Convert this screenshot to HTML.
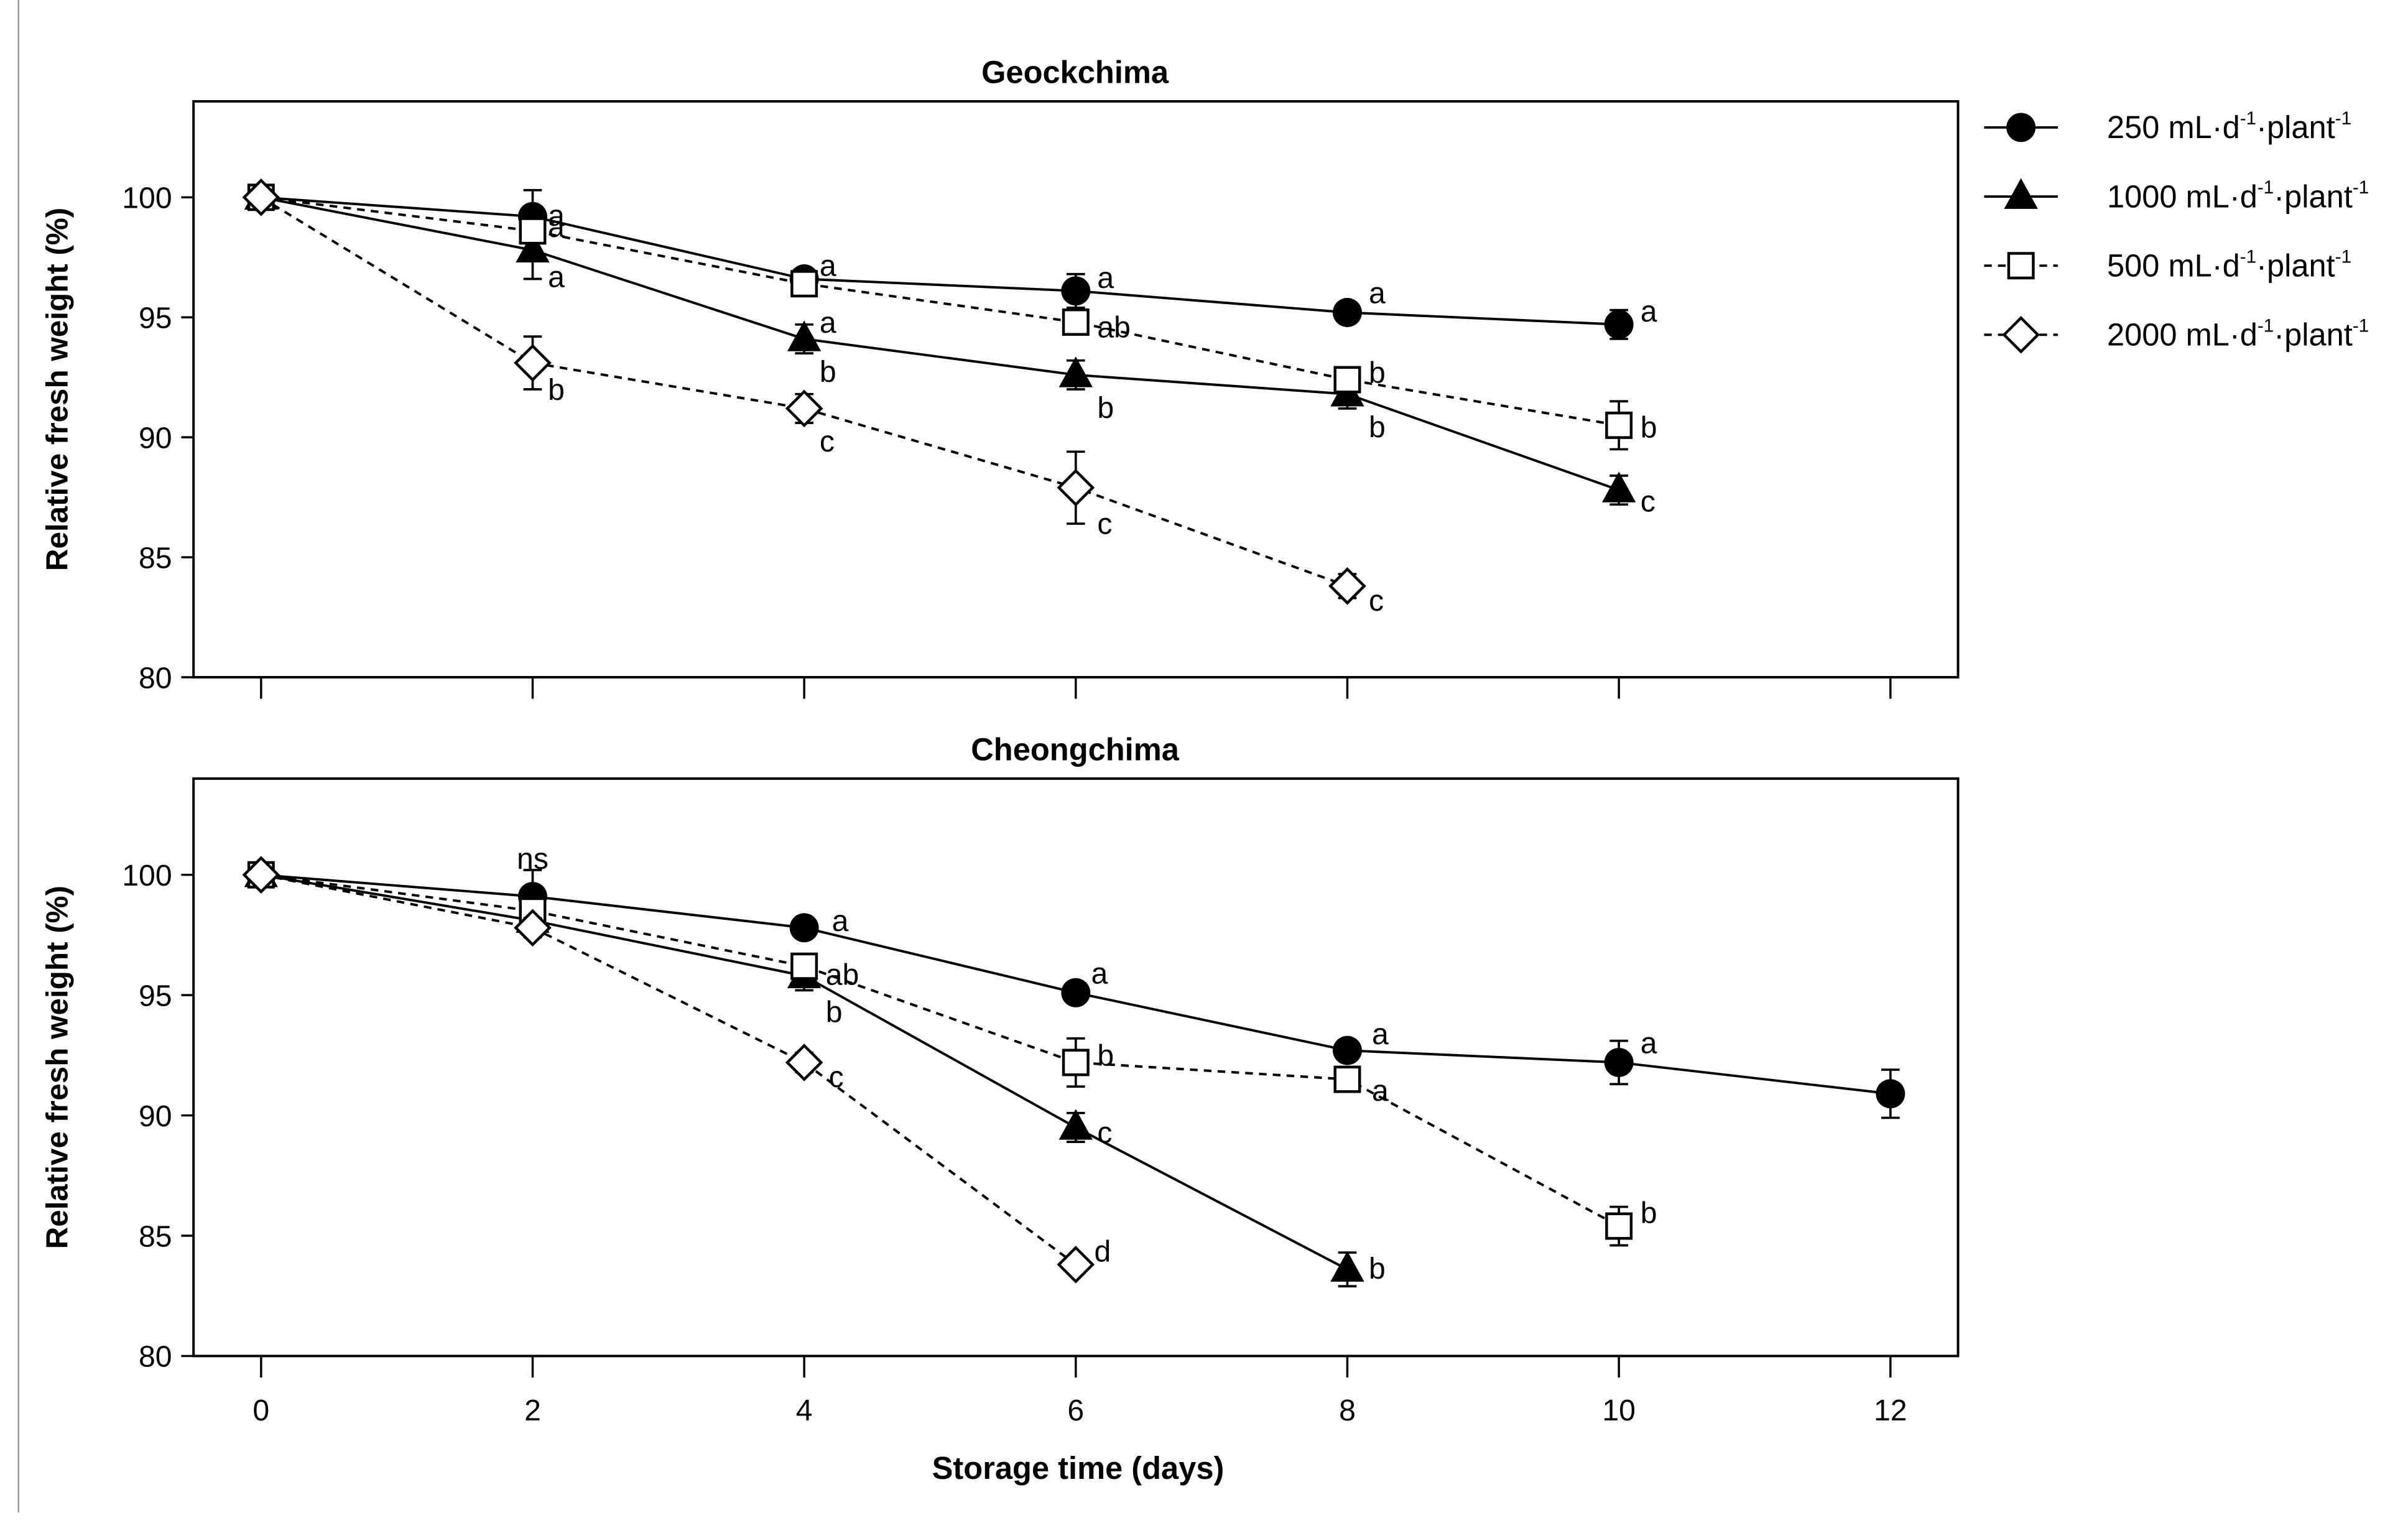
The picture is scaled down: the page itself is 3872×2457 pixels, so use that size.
<!DOCTYPE html>
<html><head><meta charset="utf-8"><style>
html,body{margin:0;padding:0;background:#fff;}
svg{display:block;font-family:"Liberation Sans",Arial,sans-serif;}
</style></head><body>
<svg id="chart" width="3872" height="2457" viewBox="0 0 1568 995" xmlns="http://www.w3.org/2000/svg">
<line x1="12" y1="0" x2="12" y2="985" stroke="#999" stroke-width="1"/>
<g id="legend"></g>
</svg>
<script>
const xTicks=[0,2,4,6,8,10,12];
const yTicks=[80,85,90,95,100];
const seriesNames=["250 mL·d-1·plant-1","1000 mL·d-1·plant-1","500 mL·d-1·plant-1","2000 mL·d-1·plant-1"];
// Geockchima
const gDays250=[0,2,4,6,8,10]; const gVal250=[100,99.2,96.6,96.1,95.2,94.7]; const gErr250=[0,1.1,0.3,0.7,0.3,0.6];
const gDays1000=[0,2,4,6,8,10]; const gVal1000=[100,97.8,94.1,92.6,91.8,87.8]; const gErr1000=[0,1.2,0.6,0.6,0.6,0.6];
const gDays500=[0,2,4,6,8,10]; const gVal500=[100,98.6,96.4,94.8,92.4,90.5]; const gErr500=[0,0.5,0.4,0.4,0.4,1.0];
const gDays2000=[0,2,4,6,8]; const gVal2000=[100,93.1,91.2,87.9,83.8]; const gErr2000=[0,1.1,0.6,1.5,0.5];
// Cheongchima
const cDays250=[0,2,4,6,8,10,12]; const cVal250=[100,99.1,97.8,95.1,92.7,92.2,90.9]; const cErr250=[0,1.1,0.3,0.4,0.4,0.9,1.0];
const cDays1000=[0,2,4,6,8]; const cVal1000=[100,98.1,95.8,89.5,83.6]; const cErr1000=[0,0.5,0.6,0.6,0.7];
const cDays500=[0,2,4,6,8,10]; const cVal500=[100,98.5,96.2,92.2,91.5,85.4]; const cErr500=[0,0.5,0.4,1.0,0.4,0.8];
const cDays2000=[0,2,4,6]; const cVal2000=[100,97.8,92.2,83.8]; const cErr2000=[0,0.4,0.4,0.3];
// significance letters: [day, value, text, dx, dy]
const gLetters=[[2,99.2,"a",10,0],[2,98.6,"a",10,-2],[2,97.8,"a",10,18],[2,93.1,"b",10,18],
[4,96.6,"a",10,-8],[4,94.1,"a",10,-10],[4,94.1,"b",10,22],[4,91.2,"c",10,22],
[6,96.1,"a",14,-8],[6,94.8,"ab",14,4],[6,92.6,"b",14,22],[6,87.9,"c",14,24],
[8,95.2,"a",14,-12],[8,92.4,"b",14,-4],[8,91.8,"b",14,22],[8,83.8,"c",14,10],
[10,94.7,"a",14,-8],[10,90.5,"b",14,2],[10,87.8,"c",14,8]];
const cLetters=[[2,99.1,"ns",0,-24],[4,97.8,"a",18,-4],[4,96.2,"ab",14,6],[4,95.8,"b",14,24],[4,92.2,"c",16,10],
[6,95.1,"a",10,-12],[6,92.2,"b",14,-4],[6,89.5,"c",14,4],[6,83.8,"d",12,-8],
[8,92.7,"a",16,-10],[8,91.5,"a",16,8],[8,83.6,"b",14,0],[10,92.2,"a",14,-12],[10,85.4,"b",14,-8]];

const NS="http://www.w3.org/2000/svg";
const svg=document.getElementById('chart');
function mk(tag,attrs,parent){const e=document.createElementNS(NS,tag);for(const k in attrs)e.setAttribute(k,attrs[k]);(parent||svg).appendChild(e);return e;}
const X0=170,X1=1231;
function xs(d){return X0+(X1-X0)*d/12;}

function marker(g,type,cx,cy){
  let m;
  if(type===0)m=mk('circle',{cx:cx,cy:cy,r:9.5,fill:'#000'},g);
  else if(type===1)m=mk('polygon',{points:`${cx},${cy-12} ${cx+11},${cy+8} ${cx-11},${cy+8}`,fill:'#000'},g);
  else if(type===2)m=mk('rect',{x:cx-8,y:cy-8,width:16,height:16,fill:'#fff',stroke:'#000','stroke-width':1.8},g);
  else m=mk('polygon',{points:`${cx},${cy-11} ${cx+11},${cy} ${cx},${cy+11} ${cx-11},${cy}`,fill:'#fff',stroke:'#000','stroke-width':1.8},g);
  return m;
}

function panel(name,title,top,bottom,series,letters){
  const ys=v=>bottom-(bottom-top)*(v-80)/(104-80);
  const g=mk('g',{});
  
  
  const box=mk('rect',{x:126,y:top,width:1149,height:bottom-top,fill:'none',stroke:'#000','stroke-width':1.6},g);
  
  
  const t=mk('text',{x:700,y:top-12,'text-anchor':'middle','font-size':20.5,'font-weight':'bold'},g);
  t.textContent=title;
  
  
  yTicks.forEach(v=>{
    mk('line',{x1:118,x2:126,y1:ys(v),y2:ys(v),stroke:'#000','stroke-width':1.4},g);
    const l=mk('text',{x:112,y:ys(v)+7,'text-anchor':'end','font-size':19.5},g);
    l.textContent=v;
    
    
  });
  xTicks.forEach(d=>{mk('line',{x1:xs(d),x2:xs(d),y1:bottom,y2:bottom+14,stroke:'#000','stroke-width':1.4},g);});
  const yt=mk('text',{transform:`translate(44,${(top+bottom)/2}) rotate(-90)`,'text-anchor':'middle','font-size':20,'font-weight':'bold'},g);
  yt.textContent='Relative fresh weight (%)';
  
  
  series.forEach((s,i)=>{
    const sg=mk('g',{},g);
    
    
    const pts=s.d.map((d,j)=>xs(d)+','+ys(s.v[j])).join(' ');
    mk('polyline',{points:pts,fill:'none',stroke:'#000','stroke-width':1.6,'stroke-dasharray':i>=2?'5,4':'none'},sg);
    s.d.forEach((d,j)=>{
      const e=s.e[j];
      if(e>0){const x=xs(d);
        mk('line',{x1:x,x2:x,y1:ys(s.v[j]+e),y2:ys(s.v[j]-e),stroke:'#000','stroke-width':1.5},sg);
        mk('line',{x1:x-6,x2:x+6,y1:ys(s.v[j]+e),y2:ys(s.v[j]+e),stroke:'#000','stroke-width':1.5},sg);
        mk('line',{x1:x-6,x2:x+6,y1:ys(s.v[j]-e),y2:ys(s.v[j]-e),stroke:'#000','stroke-width':1.5},sg);}
    });
    s.d.forEach((d,j)=>{const m=marker(sg,i,xs(d),ys(s.v[j]));
      
      });
  });
  letters.forEach(L=>{
    const tx=mk('text',{x:xs(L[0])+L[3],y:ys(L[1])+L[4]+6,'font-size':19.5,'text-anchor':L[2]==='ns'?'middle':'start'},g);
    tx.textContent=L[2];
    
    
  });
  return ys;
}
panel('geockchima','Geockchima',66,441,[{d:gDays250,v:gVal250,e:gErr250},{d:gDays1000,v:gVal1000,e:gErr1000},{d:gDays500,v:gVal500,e:gErr500},{d:gDays2000,v:gVal2000,e:gErr2000}],gLetters);
panel('cheongchima','Cheongchima',507,883,[{d:cDays250,v:cVal250,e:cErr250},{d:cDays1000,v:cVal1000,e:cErr1000},{d:cDays500,v:cVal500,e:cErr500},{d:cDays2000,v:cVal2000,e:cErr2000}],cLetters);
xTicks.forEach(d=>{const l=mk('text',{x:xs(d),y:925,'text-anchor':'middle','font-size':19.5});
  l.textContent=d;
  
  });
const xt=mk('text',{x:702,y:963,'text-anchor':'middle','font-size':20.5,'font-weight':'bold'});
xt.textContent='Storage time (days)';


// legend
const lg=document.getElementById('legend');
const legendLabels=["250","1000","500","2000"];
legendLabels.forEach((n,i)=>{
  const y=83+45*i;
  const eg=mk('g',{},lg);
  
  
  mk('line',{x1:1292,x2:1340,y1:y,y2:y,stroke:'#000','stroke-width':1.6,'stroke-dasharray':i>=2?'5,4':'none'},eg);
  marker(eg,i,1316,y);
  const t=mk('text',{x:1372,y:y+7,'font-size':20.5},eg);
  t.innerHTML=n+' mL·d<tspan dy="-9" font-size="12">-1</tspan><tspan dy="9">·plant</tspan><tspan dy="-9" font-size="12">-1</tspan>';
});
</script>
</body></html>
